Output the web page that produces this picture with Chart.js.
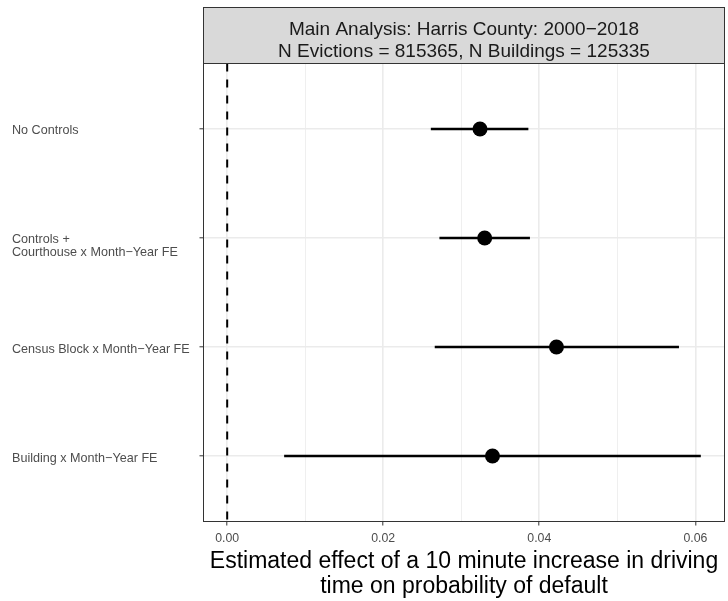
<!DOCTYPE html>
<html>
<head>
<meta charset="utf-8">
<script src="https://cdn.jsdelivr.net/npm/chart.js@4/dist/chart.umd.min.js"></script>
<style>
  html, body { margin: 0; padding: 0; background: #ffffff; overflow: hidden; }
  #wrap { width: 732px; height: 601px; }
</style>
</head>
<body>
<div id="wrap"><canvas id="c" width="732" height="601"></canvas></div>
<script>
// Model specifications (top to bottom) and their estimates with confidence bounds
const models = [
  "No Controls",
  "Controls +\nCourthouse x Month\u2212Year FE",
  "Census Block x Month\u2212Year FE",
  "Building x Month\u2212Year FE"
];
const estimates = [0.0324, 0.0330, 0.0422, 0.0340];
const ciLower   = [0.0261, 0.0272, 0.0266, 0.0073];
const ciUpper   = [0.0386, 0.0388, 0.0579, 0.0607];

// Axis breaks: majors carry labels, the in-between values are minor grid lines
const xTicks = [0, 0.01, 0.02, 0.03, 0.04, 0.05, 0.06];

const stripLines = [
  "Main Analysis: Harris County: 2000\u22122018",
  "N Evictions = 815365, N Buildings = 125335"
];
const xTitle = [
  "Estimated effect of a 10 minute increase in driving",
  "time on probability of default"
];

const FONT = '"Liberation Sans", Arial, Helvetica, sans-serif';

// Scale limits: data range (including the zero reference line) padded by 5%
const lo = Math.min(0, ...ciLower);
const hi = Math.max(0, ...ciUpper);
const pad = 0.05 * (hi - lo);
const xMin = lo - pad;
const xMax = hi + pad;
// Discrete y positions 1..n with 0.6 units of padding on each end
const yMin = 0.4;
const yMax = models.length + 0.6;

const isMajor = v => Math.round(v * 100) % 2 === 0;

// Panel frame and the grey facet strip above it
const panelDecor = {
  id: 'panelDecor',
  afterDraw(chart) {
    const { ctx, chartArea: a } = chart;
    ctx.save();
    ctx.strokeStyle = '#333333';
    ctx.lineWidth = 1;
    ctx.strokeRect(a.left, a.top, a.right - a.left, a.bottom - a.top);

    const stripTop = 7.5;
    ctx.fillStyle = '#D9D9D9';
    ctx.fillRect(a.left, stripTop, a.right - a.left, a.top - stripTop);
    ctx.strokeRect(a.left, stripTop, a.right - a.left, a.top - stripTop);

    ctx.fillStyle = '#1A1A1A';
    ctx.font = '19px ' + FONT;
    ctx.textAlign = 'center';
    ctx.textBaseline = 'alphabetic';
    const cx = (a.left + a.right) / 2;
    ctx.fillText(stripLines[0], cx, 34.5);
    ctx.fillText(stripLines[1], cx, 56.8);
    ctx.restore();
  }
};

const yPos = models.map((_, i) => i + 1);

const ciSets = models.map((m, i) => ({
  label: 'ci-' + i,
  data: [{ x: ciLower[i], y: yPos[i] }, { x: ciUpper[i], y: yPos[i] }],
  showLine: true,
  borderColor: '#000000',
  borderWidth: 2.6,
  borderCapStyle: 'butt',
  pointRadius: 0,
  order: 1
}));

const datasets = [
  {
    label: 'estimate',
    data: estimates.map((v, i) => ({ x: v, y: yPos[i] })),
    pointRadius: 7.5,
    pointBackgroundColor: '#000000',
    pointBorderWidth: 0,
    showLine: false,
    order: 0
  },
  ...ciSets,
  {
    label: 'zero',
    data: [{ x: 0, y: yMin }, { x: 0, y: yMax }],
    showLine: true,
    borderColor: '#000000',
    borderWidth: 2,
    borderDash: [8, 8],
    pointRadius: 0,
    order: 2
  }
];

new Chart(document.getElementById('c'), {
  type: 'scatter',
  data: { datasets },
  plugins: [panelDecor],
  options: {
    responsive: false,
    animation: false,
    events: [],
    devicePixelRatio: 1,
    layout: { padding: { left: 12, right: 3, top: 63.5, bottom: 0 } },
    plugins: {
      legend: { display: false },
      tooltip: { enabled: false },
      title: { display: false }
    },
    scales: {
      x: {
        type: 'linear',
        min: xMin,
        max: xMax,
        afterBuildTicks: s => { s.ticks = xTicks.map(v => ({ value: v })); },
        afterFit: s => { s.height = 79.5; },
        border: { display: false },
        grid: {
          color: '#EBEBEB',
          lineWidth: c => (c.tick && isMajor(c.tick.value)) ? 1.6 : 0.8,
          tickColor: c => (c.tick && isMajor(c.tick.value)) ? '#333333' : 'rgba(0,0,0,0)',
          tickWidth: 1,
          tickLength: 4
        },
        ticks: {
          autoSkip: false,
          maxRotation: 0,
          padding: 6,
          color: '#4D4D4D',
          font: { family: FONT, size: 12.3, lineHeight: 1.2 },
          callback: v => isMajor(v) ? v.toFixed(2) : ''
        },
        title: {
          display: true,
          text: xTitle,
          color: '#000000',
          font: { family: FONT, size: 23, lineHeight: 1.05 },
          padding: { top: 0, bottom: 2.7 }
        }
      },
      y: {
        type: 'linear',
        reverse: true,
        min: yMin,
        max: yMax,
        afterBuildTicks: s => { s.ticks = yPos.map(v => ({ value: v })); },
        afterFit: s => { s.width = 191.5; },
        border: { display: false },
        grid: {
          color: '#EBEBEB',
          lineWidth: 1.6,
          tickColor: '#333333',
          tickWidth: 1,
          tickLength: 4
        },
        ticks: {
          autoSkip: false,
          crossAlign: 'far',
          labelOffset: 2,
          color: '#4D4D4D',
          font: { family: FONT, size: 12.6, lineHeight: 0.98 },
          callback: v => {
            const s = models[v - 1];
            if (!s) return '';
            const lines = s.split('\n');
            // two-line labels sit with their first line on the tick
            return lines.length > 1 ? [''].concat(lines) : lines;
          }
        }
      }
    }
  }
});
</script>
</body>
</html>
